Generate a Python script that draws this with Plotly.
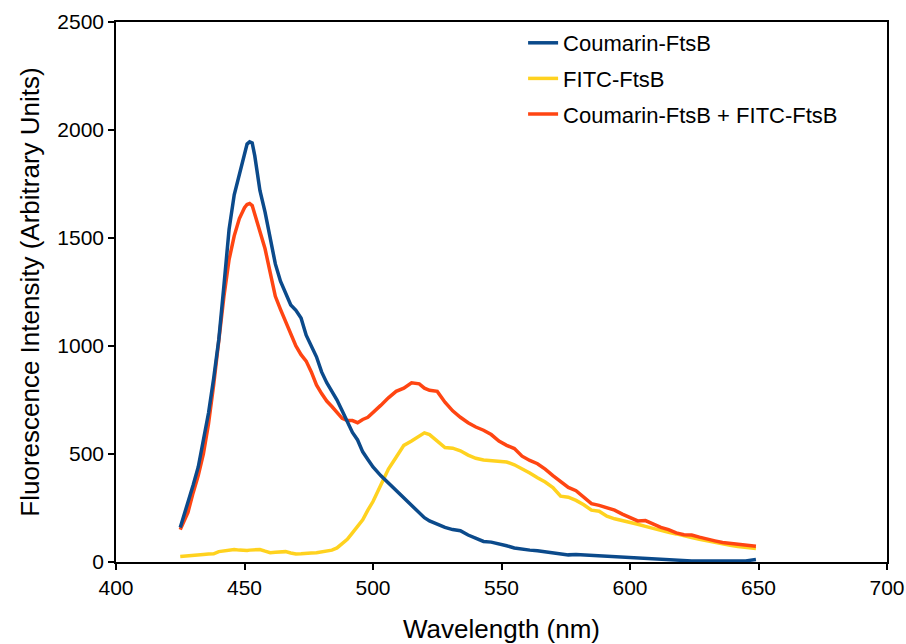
import plotly.graph_objects as go

wavelength = [425, 428, 430, 432, 434, 436, 438, 440, 442, 444, 446, 448, 450, 451, 452, 453, 454, 456, 458, 460,
              462, 464, 466, 468, 470, 472, 474, 476, 478, 480, 482, 484, 486, 488, 490, 492, 494, 496, 498, 500,
              503, 506, 509, 512, 515, 518, 520, 522, 525, 528, 531, 534, 537, 540, 543, 546, 549, 552, 555, 558,
              561, 564, 567, 570, 573, 576, 579, 582, 585, 588, 591, 594, 597, 600, 603, 606, 609, 612, 615, 618,
              621, 624, 627, 630, 633, 636, 639, 642, 645, 649]

coumarin = [160, 270, 355, 440, 560, 690, 850, 1030, 1280, 1540, 1700, 1790, 1880, 1935, 1945, 1940, 1880, 1720, 1620, 1500,
            1380, 1300, 1240, 1190, 1165, 1130, 1050, 1000, 950, 880, 830, 790, 750, 700, 650, 600, 565, 510, 475, 440,
            400, 365, 330, 300, 260, 230, 205, 190, 175, 160, 150, 145, 125, 110, 95, 92, 85, 75, 65, 58,
            55, 52, 48, 45, 40, 33, 35, 33, 30, 27, 25, 23, 22, 20, 20, 17, 15, 10, 12, 8,
            6, 5, 5, 5, 5, 5, 5, 5, 5, 12]

fitc = [25, 27, 30, 33, 35, 37, 38, 48, 50, 53, 58, 55, 52, 53, 55, 55, 57, 58, 50, 43,
        45, 48, 48, 42, 37, 38, 42, 42, 43, 46, 50, 55, 65, 85, 105, 135, 165, 195, 240, 280,
        355, 430, 485, 540, 560, 585, 598, 590, 560, 530, 527, 515, 495, 480, 472, 468, 465, 463, 450, 432,
        412, 390, 370, 345, 305, 300, 285, 265, 240, 235, 212, 200, 193, 185, 175, 165, 155, 145, 137, 130,
        120, 113, 105, 97, 90, 82, 77, 72, 67, 62]

combined = [150, 230, 320, 400, 500, 640, 820, 1040, 1230, 1400, 1510, 1590, 1640, 1655, 1660, 1650, 1610, 1530, 1450, 1340,
            1230, 1170, 1110, 1060, 1000, 960, 930, 880, 820, 780, 745, 720, 695, 665, 655, 655, 645, 660, 670, 690,
            725, 760, 790, 805, 830, 825, 805, 795, 790, 740, 700, 670, 645, 625, 610, 590, 560, 540, 525, 490,
            470, 455, 430, 400, 370, 345, 330, 300, 270, 262, 252, 240, 222, 205, 190, 192, 176, 160, 150, 135,
            126, 125, 115, 105, 98, 90, 87, 83, 80, 73]

series_names = ["Coumarin-FtsB", "FITC-FtsB", "Coumarin-FtsB + FITC-FtsB"]
series_colors = ["#0B4A8B", "#FFD21F", "#FF4512"]
series_values = [coumarin, fitc, combined]
legend_ranks = [1, 2, 3]
draw_order = [1, 2, 0]
x_ticks = [400, 450, 500, 550, 600, 650, 700]
y_ticks = [0, 500, 1000, 1500, 2000, 2500]

fig = go.Figure()
for i in draw_order:
    fig.add_trace(go.Scatter(x=wavelength, y=series_values[i], mode="lines", name=series_names[i],
                             legendrank=legend_ranks[i], legendgroup=series_names[i],
                             line=dict(color=series_colors[i], width=3.5)))

axis_common = dict(showline=True, linecolor="black", linewidth=1.5, mirror=True, ticks="outside",
                   ticklen=6, tickwidth=1.5, tickcolor="black", showgrid=False, zeroline=False,
                   automargin=False, tickfont=dict(size=21, color="black"))

fig.update_layout(
    width=906, height=644,
    margin=dict(l=116, r=19, t=22, b=82),
    paper_bgcolor="white", plot_bgcolor="white",
    font=dict(family="Liberation Sans, Arial, sans-serif", color="black"),
    xaxis=dict(range=[400, 700], tickvals=x_ticks,
               title=dict(text="Wavelength (nm)", font=dict(size=26), standoff=24), **axis_common),
    yaxis=dict(range=[0, 2500], tickvals=y_ticks,
               title=dict(text="Fluorescence Intensity (Arbitrary Units)", font=dict(size=26), standoff=10),
               **axis_common),
    legend=dict(x=0.528, y=1.0, xanchor="left", yanchor="top", font=dict(size=22),
                traceorder="grouped", tracegroupgap=4, itemwidth=30, bgcolor="rgba(0,0,0,0)"),
    showlegend=True,
)

fig.write_html("out.html", config={"displayModeBar": False},
               post_script="document.body.style.margin='0';document.body.style.overflow='hidden';")
